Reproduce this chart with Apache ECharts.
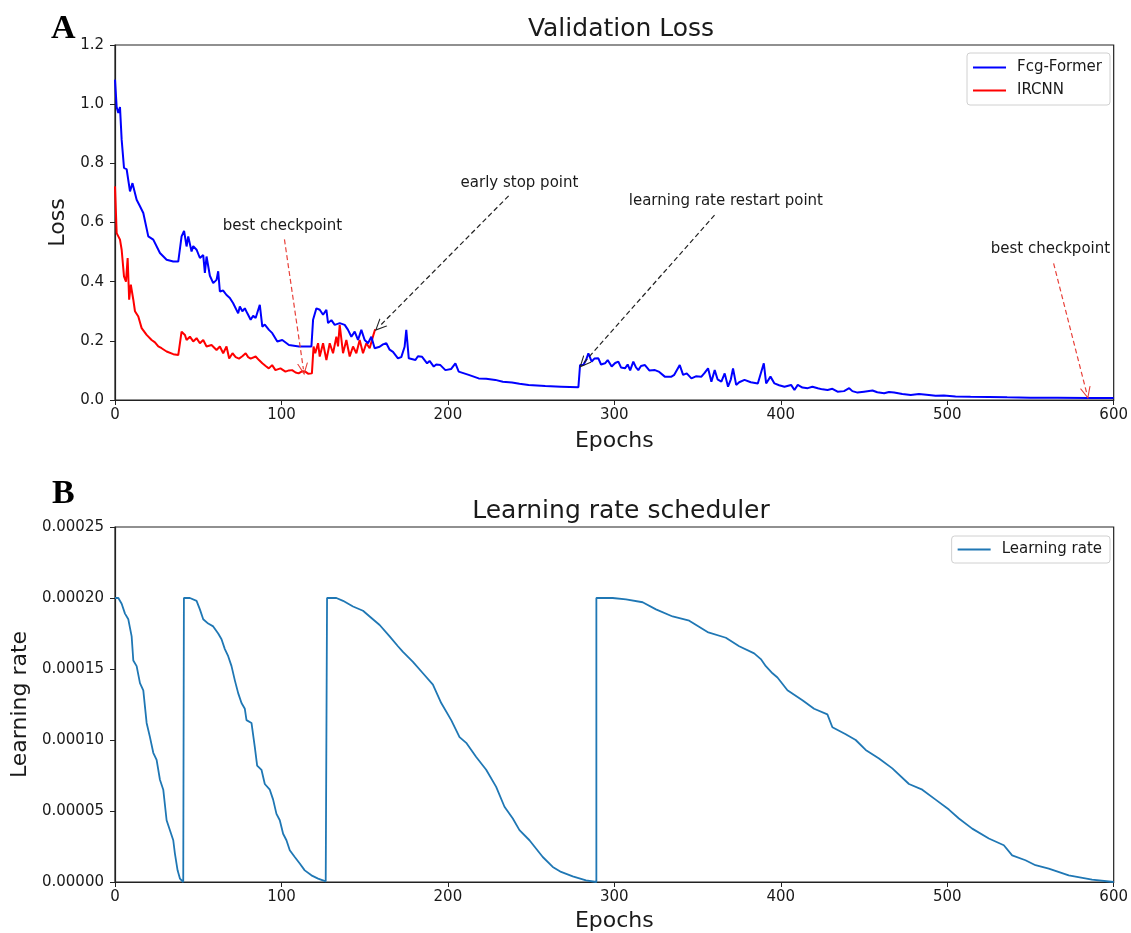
<!DOCTYPE html>
<html>
<head>
<meta charset="utf-8">
<script src="https://cdn.jsdelivr.net/npm/echarts@6/dist/echarts.min.js"></script>
<style>
  html, body { margin: 0; padding: 0; background: #fff; }
  #chart { width: 1131px; height: 933px; }
</style>
</head>
<body>
<div id="chart"></div>
<script>
// ---- Data ----
const xTicks = [0, 100, 200, 300, 400, 500, 600];
const lossTicks = [0.0, 0.2, 0.4, 0.6, 0.8, 1.0, 1.2];
const lrTicks = [0, 0.00005, 0.0001, 0.00015, 0.0002, 0.00025];

// Fcg-Former validation loss: [epoch, loss]
const fcgFormerLoss = [
[0,1.083],[1,0.99],[2,0.97],[3,0.99],[4,0.88],[5.4,0.785],[7,0.78],[9,0.705],[10.5,0.733],[13,0.677],[15,0.655],[17,0.632],[20,0.553],[23,0.542],[27,0.497],[31,0.474],[35,0.468],[38,0.468],[40,0.553],[41.5,0.572],[43,0.519],[44,0.553],[46,0.502],[47,0.52],[49,0.508],[51,0.48],[53,0.49],[54,0.43],[55,0.485],[57,0.42],[59,0.395],[61,0.406],[62,0.435],[63,0.367],[65,0.37],[67,0.355],[69,0.345],[71,0.327],[74,0.293],[75,0.316],[76.5,0.30],[78,0.31],[79.5,0.293],[81.5,0.271],[83,0.285],[84.5,0.277],[87,0.322],[88.5,0.248],[90,0.255],[92.5,0.237],[94.5,0.226],[97.5,0.198],[100.5,0.203],[104.5,0.186],[110.5,0.181],[118,0.181],[119,0.271],[121,0.31],[123,0.305],[125,0.288],[127,0.305],[128,0.26],[130,0.27],[132,0.254],[135,0.26],[138,0.254],[140,0.237],[142,0.214],[144,0.231],[146,0.203],[148,0.237],[150,0.203],[152,0.192],[154,0.214],[156,0.175],[159,0.18],[161,0.188],[163,0.192],[165,0.17],[167,0.163],[170,0.141],[172,0.145],[174,0.18],[175,0.237],[176.5,0.141],[180.5,0.135],[182,0.148],[184.5,0.146],[187.5,0.124],[189,0.132],[191.5,0.113],[193,0.12],[195.5,0.118],[198.5,0.101],[202,0.105],[204.5,0.124],[206.5,0.096],[212.5,0.085],[218.5,0.073],[223,0.072],[228.5,0.068],[233,0.062],[238.5,0.059],[243,0.055],[248.5,0.051],[258.5,0.047],[268,0.045],[278.4,0.043],[279.4,0.118],[281.4,0.118],[283,0.135],[284.4,0.158],[286.4,0.13],[288,0.14],[290.4,0.141],[292,0.12],[294.4,0.124],[296,0.135],[298.4,0.113],[300.5,0.125],[302.4,0.13],[304,0.11],[306.4,0.107],[308,0.12],[309.5,0.1],[311.4,0.13],[313,0.11],[314.4,0.101],[316,0.115],[318.4,0.118],[321,0.1],[324.4,0.101],[327,0.095],[330.3,0.079],[334.3,0.079],[336,0.085],[339.3,0.118],[341.3,0.085],[343.5,0.09],[346.3,0.073],[349,0.08],[352.3,0.079],[354,0.09],[356.3,0.107],[358.3,0.062],[360.3,0.101],[362,0.07],[364.3,0.062],[366.3,0.09],[368.3,0.045],[370,0.07],[371.3,0.107],[373.2,0.051],[375,0.06],[378.2,0.068],[382,0.06],[386.2,0.056],[389.8,0.124],[391.2,0.056],[393.8,0.079],[396.2,0.056],[399,0.05],[402.2,0.045],[406.2,0.051],[408.2,0.034],[410.2,0.051],[413,0.042],[416.2,0.04],[419,0.045],[422.2,0.04],[425,0.036],[428.1,0.034],[431,0.038],[434.1,0.028],[438,0.03],[441.1,0.04],[443,0.03],[446.1,0.025],[450,0.028],[455.1,0.032],[458,0.026],[462.1,0.023],[465,0.027],[468.1,0.025],[473,0.02],[478.1,0.017],[483,0.02],[489,0.017],[493,0.014],[498,0.015],[505,0.012],[514,0.011],[525,0.01],[536,0.009],[550,0.008],[566,0.008],[585,0.007],[600,0.007]
];

// IRCNN validation loss: [epoch, loss]
const ircnnLoss = [
[0,0.722],[1,0.564],[3,0.542],[4,0.508],[5.4,0.418],[6.6,0.40],[7.6,0.48],[8.5,0.339],[9.5,0.39],[11,0.339],[12,0.30],[14,0.282],[16,0.243],[19,0.22],[22,0.203],[24,0.195],[26,0.181],[28,0.175],[31,0.164],[35,0.155],[38,0.152],[40,0.231],[42,0.22],[43,0.203],[45,0.214],[47,0.198],[49,0.209],[51,0.192],[53,0.203],[55,0.181],[58,0.186],[61,0.169],[63,0.181],[65,0.158],[67,0.181],[68.6,0.14],[70.6,0.158],[72.5,0.145],[74.5,0.14],[76.5,0.148],[78.5,0.158],[80,0.145],[81.5,0.14],[84.5,0.147],[86.5,0.135],[88.5,0.124],[90.5,0.115],[92.4,0.107],[94.4,0.118],[96.4,0.101],[99.4,0.107],[102.4,0.096],[104.5,0.1],[106.4,0.101],[108.5,0.093],[110.3,0.09],[112.3,0.097],[114.3,0.096],[116,0.089],[118.3,0.09],[119.3,0.181],[120.3,0.158],[122,0.192],[123,0.147],[125,0.192],[127,0.135],[129,0.192],[131,0.158],[133,0.214],[134,0.181],[135,0.254],[137,0.158],[139,0.203],[141,0.147],[143,0.181],[145,0.158],[147,0.203],[149,0.158],[151,0.192],[153,0.175],[155,0.215],[156.3,0.239]
];

// Learning rate: [epoch, lr]
const learningRate = [
[0,0.0002],[2,0.0002],[4,0.000196],[6,0.000189],[8,0.000185],[10,0.000173],[11,0.000156],[13,0.000152],[15,0.00014],[17,0.000135],[19,0.000112],[21,0.000102],[23,0.000091],[25,0.000086],[27,0.000072],[29,0.000065],[31,0.0000435],[33,0.0000365],[35,0.0000294],[36,0.00002],[37.6,0.0000082],[39,0.0000024],[41,0],[41.4,0],[41.4,0.0002],
[42,0.0002],[45,0.0002],[49,0.000198],[51,0.000192],[53,0.000185],[56,0.000182],[59,0.00018],[62,0.000175],[64,0.000171],[66,0.000164],[68,0.000159],[70,0.000152],[72,0.000142],[74,0.000133],[76,0.000126],[78,0.000122],[79,0.000114],[82,0.000112],[84,0.000095],[85.4,0.000082],[88,0.000079],[90,0.000069],[93,0.000065],[95,0.000058],[97,0.000048],[99,0.0000435],[101,0.000034],[103,0.0000294],[105,0.0000224],[108,0.0000176],[111,0.000013],[114,0.0000082],[118,0.0000047],[122,0.0000024],[126.6,0.0000005],[127.4,0],[127.4,0.0002],
[128,0.0002],[133,0.0002],[137,0.000198],[143,0.000194],[149,0.000191],[153,0.000187],[159,0.000181],[165,0.000173],[170,0.000166],[173,0.000162],[179,0.000155],[185,0.000147],[191,0.000139],[196,0.000126],[202,0.000114],[207,0.000102],[211,0.000098],[217,0.000088],[223,0.000079],[229,0.000067],[234,0.000053],[239,0.0000447],[243,0.0000365],[249,0.0000294],[257,0.0000176],[263,0.0000106],[268,0.0000071],[275,0.000004],[283,0.0000012],[289.2,0],[289.2,0.0002],
[290,0.0002],[299,0.0002],[307,0.000199],[317,0.000197],[325,0.000192],[335,0.000187],[345,0.000184],[356,0.000176],[367,0.000172],[375,0.000166],[384,0.000161],[388,0.000157],[391,0.000152],[395,0.000147],[398,0.000144],[404,0.000135],[413,0.000128],[420,0.000122],[428,0.000118],[431,0.000109],[439,0.000104],[445,0.0001],[451,0.000093],[459,0.000087],[467,0.00008],[477,0.000069],[485,0.000065],[493,0.000058],[501,0.000051],[507,0.0000447],[515,0.0000376],[525,0.0000306],[534,0.0000259],[539,0.0000188],[547,0.0000153],[553,0.0000118],[561,0.0000094],[573,0.0000047],[587,0.0000016],[600,0]
];

// Annotations: text position and arrow [from, to] in data coords
const annotations = [
  { text: 'best checkpoint', at: [100.6, 0.588], from: [101.8, 0.543], to: [113.2, 0.104], color: '#e8413a' },
  { text: 'early stop point', at: [243, 0.734], from: [236.5, 0.69], to: [158.7, 0.248], color: '#222222' },
  { text: 'learning rate restart point', at: [367, 0.673], from: [360.2, 0.625], to: [281.4, 0.124], color: '#222222' },
  { text: 'best checkpoint', at: [562, 0.51], from: [563.9, 0.462], to: [583.8, 0.023], color: '#e8413a' }
];

// ---- Chart ----
const FONT = '"DejaVu Sans", sans-serif';
const TXT = '#1a1a1a';
const chart = echarts.init(document.getElementById('chart'), null, { renderer: 'canvas' });

const arrowHead = 'path://M5,0 L10,10 L8.9,10 L5,2.2 L1.1,10 L0,10 Z';
const legendLine = 'path://M0,0 L33,0 L33,2 L0,2 Z';

function xAxisCfg(gridIndex, gap) {
  return {
    type: 'value', gridIndex: gridIndex, min: xTicks[0], max: xTicks[xTicks.length - 1], interval: 100,
    name: 'Epochs', nameLocation: 'middle', nameGap: gap,
    nameTextStyle: { fontFamily: FONT, fontSize: 22, color: TXT },
    axisLine: { show: true, onZero: false, lineStyle: { color: '#222', width: 1.2 } },
    axisTick: { show: true, inside: false, length: 5, lineStyle: { color: '#222', width: 1 } },
    axisLabel: { fontFamily: FONT, fontSize: 15, color: TXT, margin: 8 },
    splitLine: { show: false }
  };
}

const option = {
  animation: false,
  backgroundColor: '#ffffff',
  title: [
    { text: 'Validation Loss', left: 616, top: 12, textAlign: 'center',
      textStyle: { fontFamily: FONT, fontSize: 25, fontWeight: 'normal', color: TXT } },
    { text: 'Learning rate scheduler', left: 616, top: 494, textAlign: 'center',
      textStyle: { fontFamily: FONT, fontSize: 25, fontWeight: 'normal', color: TXT } }
  ],
  graphic: [
    { type: 'text', left: 51, top: 12, style: { text: 'A', font: 'bold 34px "Liberation Serif", serif', fill: '#000' } },
    { type: 'text', left: 52, top: 477, style: { text: 'B', font: 'bold 34px "Liberation Serif", serif', fill: '#000' } }
  ],
  grid: [
    { left: 115, right: 13, top: 45, height: 355, show: true, borderColor: '#222', borderWidth: 1.2, backgroundColor: 'transparent' },
    { left: 115, right: 13, top: 527, height: 355, show: true, borderColor: '#222', borderWidth: 1.2, backgroundColor: 'transparent' }
  ],
  legend: [
    { data: ['Fcg-Former', 'IRCNN'], orient: 'vertical', right: 21, top: 53, icon: legendLine,
      itemWidth: 33, itemHeight: 2, itemGap: 8, padding: [7, 8, 7, 6],
      borderColor: '#d0d0d0', borderWidth: 1, borderRadius: 3, backgroundColor: '#fff',
      textStyle: { fontFamily: FONT, fontSize: 15, color: TXT, padding: [0, 0, 0, 6] } },
    { data: ['Learning rate'], orient: 'vertical', right: 21, top: 536, icon: legendLine,
      itemWidth: 33, itemHeight: 2, padding: [6, 8, 6, 6],
      borderColor: '#d0d0d0', borderWidth: 1, borderRadius: 3, backgroundColor: '#fff',
      textStyle: { fontFamily: FONT, fontSize: 15, color: TXT, padding: [0, 0, 0, 6] } }
  ],
  xAxis: [xAxisCfg(0, 30), xAxisCfg(1, 28)],
  yAxis: [
    { type: 'value', gridIndex: 0, min: 0, max: 1.2, interval: 0.2,
      name: 'Loss', nameLocation: 'middle', nameGap: 42,
      nameTextStyle: { fontFamily: FONT, fontSize: 22, color: TXT },
      axisLine: { show: true, lineStyle: { color: '#222', width: 1.2 } },
      axisTick: { show: true, inside: false, length: 5, lineStyle: { color: '#222' } },
      axisLabel: { fontFamily: FONT, fontSize: 15, color: TXT, margin: 11, formatter: v => v.toFixed(1) },
      splitLine: { show: false } },
    { type: 'value', gridIndex: 1, min: 0, max: 0.00025, interval: 0.00005,
      name: 'Learning rate', nameLocation: 'middle', nameGap: 80,
      nameTextStyle: { fontFamily: FONT, fontSize: 22, color: TXT },
      axisLine: { show: true, lineStyle: { color: '#222', width: 1.2 } },
      axisTick: { show: true, inside: false, length: 5, lineStyle: { color: '#222' } },
      axisLabel: { fontFamily: FONT, fontSize: 15, color: TXT, margin: 11, formatter: v => v.toFixed(5) },
      splitLine: { show: false } }
  ],
  series: [
    { name: 'Fcg-Former', type: 'line', xAxisIndex: 0, yAxisIndex: 0, data: fcgFormerLoss,
      symbol: 'none', lineStyle: { color: '#0000ff', width: 2 }, itemStyle: { color: '#0000ff' }, z: 3,
      markLine: {
        silent: true, symbol: ['none', arrowHead], symbolSize: [11, 12], label: { show: false },
        data: annotations.map(a => [
          { coord: a.from, lineStyle: { color: a.color, type: [5, 3], width: 1.2 }, itemStyle: { color: a.color } },
          { coord: a.to }
        ])
      },
      markPoint: {
        silent: true, symbol: 'circle', symbolSize: 1, itemStyle: { color: 'rgba(0,0,0,0)' },
        label: { show: true, position: 'inside', fontFamily: FONT, fontSize: 15, color: TXT, formatter: p => p.name },
        data: annotations.map(a => ({ name: a.text, coord: a.at }))
      }
    },
    { name: 'IRCNN', type: 'line', xAxisIndex: 0, yAxisIndex: 0, data: ircnnLoss,
      symbol: 'none', lineStyle: { color: '#ff0000', width: 2 }, itemStyle: { color: '#ff0000' }, z: 2 },
    { name: 'Learning rate', type: 'line', xAxisIndex: 1, yAxisIndex: 1, data: learningRate,
      symbol: 'none', lineStyle: { color: '#1f77b4', width: 1.8 }, itemStyle: { color: '#1f77b4' } }
  ]
};
chart.setOption(option);
</script>
</body>
</html>
